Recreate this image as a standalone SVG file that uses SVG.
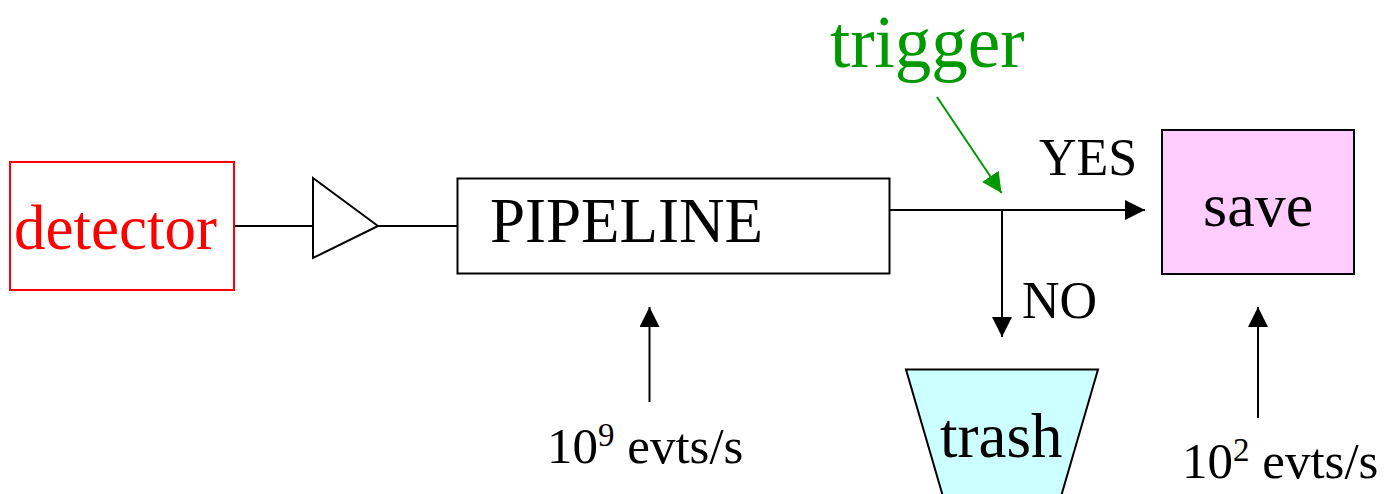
<svg xmlns="http://www.w3.org/2000/svg" width="1399" height="494" viewBox="0 0 1399 494">
<style>
.t{font-family:'Liberation Serif','Times New Roman','DejaVu Serif',serif;}
.ln{stroke:#000;stroke-width:2;fill:none;}
.box{stroke:#000;stroke-width:2;}
</style>
<defs>
<marker id="ah" viewBox="0 0 20 20" refX="20" refY="10" markerWidth="20" markerHeight="20" markerUnits="userSpaceOnUse" orient="auto">
<path d="M0,0 L20,10 L0,20 Z" fill="#000"/>
</marker>
<marker id="ahg" viewBox="0 0 20 20" refX="20" refY="10" markerWidth="20" markerHeight="20" markerUnits="userSpaceOnUse" orient="auto">
<path d="M0,0 L20,10 L0,20 Z" fill="#009900"/>
</marker>
</defs>
<rect width="1399" height="494" fill="#fff"/>
<g id="connectors">
<line class="ln" x1="234" y1="226" x2="313" y2="226"/>
<line class="ln" x1="378" y1="226" x2="458" y2="226"/>
<line class="ln" x1="890" y1="210" x2="1145" y2="210" marker-end="url(#ah)"/>
<line class="ln" x1="1002" y1="210" x2="1002" y2="337" marker-end="url(#ah)"/>
<line class="ln" x1="649.5" y1="402" x2="649.5" y2="307" marker-end="url(#ah)"/>
<line class="ln" x1="1258" y1="418" x2="1258" y2="307" marker-end="url(#ah)"/>
<line x1="937" y1="97" x2="1001.5" y2="193" stroke="#009900" stroke-width="2" marker-end="url(#ahg)"/>
</g>
<g id="detector">
<rect x="10" y="162" width="224" height="128" fill="#fff" stroke="#ff0000" stroke-width="2"/>
<text class="t" font-family="Liberation Serif, serif" x="14" y="249" font-size="63" fill="#ff0000">detector</text>
</g>
<g id="amplifier">
<polygon points="313,178 378,226 313,258" fill="#fff" stroke="#000" stroke-width="2"/>
</g>
<g id="pipeline">
<rect class="box" x="457.5" y="178.5" width="432" height="95" fill="#fff"/>
<text class="t" font-family="Liberation Serif, serif" x="490" y="242" font-size="63" fill="#000">PIPELINE</text>
</g>
<g id="trigger">
<text class="t" font-family="Liberation Serif, serif" x="830" y="67" font-size="73" fill="#009900">trigger</text>
</g>
<g id="yes-label">
<text class="t" font-family="Liberation Serif, serif" x="1039" y="175" font-size="52" fill="#000">YES</text>
</g>
<g id="no-label">
<text class="t" font-family="Liberation Serif, serif" x="1022" y="318" font-size="52" fill="#000">NO</text>
</g>
<g id="save">
<rect class="box" x="1162" y="130" width="192" height="144" fill="#ffccff"/>
<text class="t" font-family="Liberation Serif, serif" x="1203" y="226" font-size="62" fill="#000">save</text>
</g>
<g id="trash">
<polygon points="906,369.5 1098,369.5 1060,500 944,500" fill="#ccffff" stroke="#000" stroke-width="2"/>
<text class="t" font-family="Liberation Serif, serif" x="940" y="457" font-size="63" fill="#000">trash</text>
</g>
<g id="rate-in">
<text class="t" font-family="Liberation Serif, serif" x="547" y="463" font-size="51" fill="#000">10<tspan font-size="33" dy="-17">9</tspan><tspan dy="17"> evts/s</tspan></text>
</g>
<g id="rate-out">
<text class="t" font-family="Liberation Serif, serif" x="1182" y="478" font-size="51" fill="#000">10<tspan font-size="33" dy="-17">2</tspan><tspan dy="17"> evts/s</tspan></text>
</g>
</svg>
